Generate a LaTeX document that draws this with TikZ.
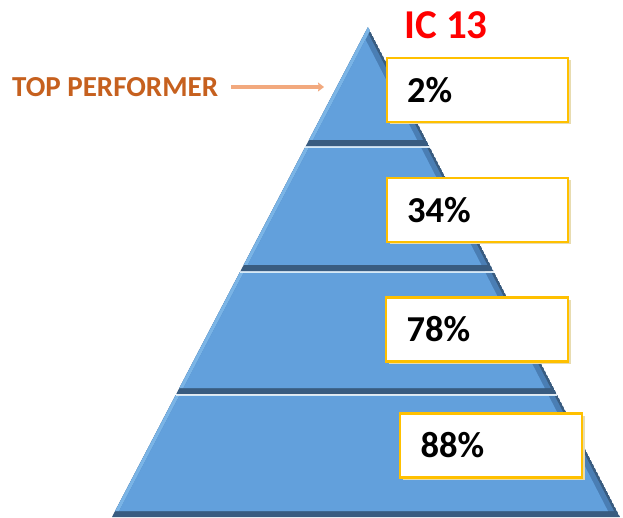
\documentclass[tikz,border=0pt]{standalone}
\usepackage{fontspec}
\setmainfont{Carlito}
\usetikzlibrary{arrows.meta,shadows}
\definecolor{face}{HTML}{62A0DC}
\definecolor{bevelR}{HTML}{4A7EB4}
\definecolor{edgeDark}{HTML}{395C80}
\definecolor{bevelL}{HTML}{7AB4E6}
\definecolor{hilite}{HTML}{D4EAF8}
\definecolor{boxline}{HTML}{FFC000}
\definecolor{boxshadow}{HTML}{E8DCB0}
\definecolor{tptext}{HTML}{C6601E}
\definecolor{tparrow}{HTML}{F2A97E}
\begin{document}
\begin{tikzpicture}[x=1pt,y=-1pt,
  declare function={xl(\y)=368-0.52245*(\y-27); xr(\y)=368+0.51429*(\y-27);},
  pctbox/.style={draw=boxline,line width=2.2pt,fill=white,rectangle,
    minimum height=64pt,text width=141pt,inner xsep=20pt,inner ysep=0pt,align=left,
    font=\fontsize{36.5}{40}\selectfont\bfseries,
    general shadow={fill=boxshadow,shadow xshift=2.5pt,shadow yshift=-2.5pt}},
  tierline/.style={draw=hilite,line width=1.4pt}]
\useasboundingbox (0,0) rectangle (623,518);
\fill[white] (0,0) rectangle (623,518);
% pyramid tiers
\foreach \tt/\bb/\ft in {27/146/40,147/271/147,272/394/272,395/517/395}{
  \begin{scope}
    \clip ({xl(\tt)},\tt) -- ({xr(\tt)},\tt) -- ({xr(\bb)},\bb) -- ({xl(\bb)},\bb) -- cycle;
    \fill[edgeDark] ({xl(\tt)},\tt) -- ({xr(\tt)},\tt) -- ({xr(\bb)},\bb) -- ({xl(\bb)},\bb) -- cycle;
    \fill[bevelR] ({xl(\tt)-2},\tt) -- ({xr(\tt)-3},\tt) -- ({xr(\bb-6)-3},\bb-6) -- ({xl(\bb-6)-2},\bb-6) -- cycle;
    \fill[bevelL] ({xl(\tt)-2},\tt) -- ({xl(\tt)+4},\tt) -- ({xl(\bb-6)+4},\bb-6) -- ({xl(\bb-6)-2},\bb-6) -- cycle;
    \fill[face] ({xl(\ft)+4},\ft) -- ({xr(\ft)-9},\ft) -- ({xr(\bb-6)-9},\bb-6) -- ({xl(\bb-6)+4},\bb-6) -- cycle;
  \end{scope}
}
\foreach \tt in {147,272,395}{
  \draw[tierline] ({xl(\tt)},\tt+0.6) -- ({xr(\tt)},\tt+0.6);
}
% boxes
\node[pctbox,minimum width=181pt] (b1) at (477.5,90) {2\%};
\node[pctbox,minimum width=181pt] (b2) at (477.5,210) {34\%};
\node[pctbox,minimum width=182pt] (b3) at (477,329.5) {78\%};
\node[pctbox,minimum width=182pt] (b4) at (491,445.5) {88\%};
% titles
\node[anchor=base west,inner sep=0pt,text=red,font=\fontsize{41}{46}\selectfont\bfseries] (ic) at (404,39) {IC 13};
\node[anchor=base west,inner sep=0pt,text=tptext,font=\fontsize{29}{33}\selectfont\bfseries] (tp) at (12,97) {TOP PERFORMER};
\coordinate (tip) at (324,87);
\draw[tparrow,line width=3.6pt,-{Stealth[length=6pt,width=9pt,inset=1pt]}] ([xshift=13pt]tp.east |- tip) -- (tip);
\end{tikzpicture}
\end{document}
